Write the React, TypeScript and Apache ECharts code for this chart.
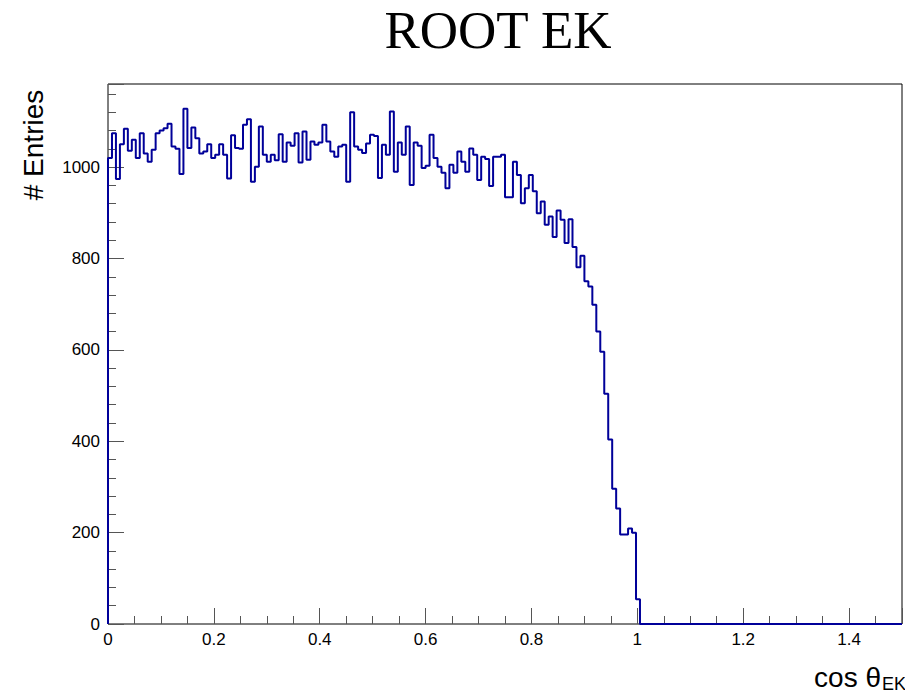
import React, { useEffect, useRef } from "react";
import * as echarts from "echarts";

// Histogram range and binning (200 bins over [0, 1.5])
const X_MIN = 0;
const X_MAX = 1.5;
const BIN_WIDTH = 0.0075;
const Y_MAX = 1182;

// Entries per bin, starting at cos θ = 0; every bin after the last one listed is empty.
const binCounts: number[] = [
  1020, 1074, 974, 1050, 1084, 1036, 1060, 1020, 1074, 1030,
  1012, 1038, 1074, 1080, 1085, 1095, 1045, 1040, 985, 1128,
  1042, 1087, 1063, 1030, 1034, 1050, 1020, 1027, 1050, 1027,
  975, 1070, 1042, 1040, 1093, 1105, 968, 1001, 1089, 1027,
  1012, 1027, 1015, 1072, 1012, 1054, 1047, 1074, 1010, 1078,
  1016, 1056, 1049, 1054, 1093, 1056, 1034, 1023, 1045, 1049,
  968, 1120, 1045, 1038, 1031, 1052, 1071, 1068, 976, 1049,
  1027, 1122, 990, 1054, 1027, 1089, 961, 1054, 1047, 998,
  1003, 1071, 1020, 1001, 988, 954, 1005, 988, 1034, 1012,
  990, 1041, 1027, 972, 1023, 1018, 959, 1023, 1023, 1027,
  934, 934, 1012, 983, 921, 954, 983, 947, 899, 925,
  874, 892, 847, 905, 885, 834, 886, 825, 781, 806,
  750, 739, 699, 640, 596, 504, 404, 296, 253, 196,
  196, 209, 200, 54,
];

// Axis tick steps
const X_MAJOR = 0.2;
const X_MINOR = 0.05;
const Y_MAJOR = 200;
const Y_MINOR = 40;

const TITLE = "ROOT EK";
const Y_TITLE = "# Entries";
const X_TITLE_MAIN = "cos θ";
const X_TITLE_SUB = "EK";

const LABEL_FONT = "'Liberation Sans', Arial, Helvetica, sans-serif";

export default function App() {
  const ref = useRef<HTMLDivElement | null>(null);

  useEffect(() => {
    if (!ref.current) return;
    const chart = echarts.init(ref.current, undefined, { renderer: "svg" });

    // Step outline: rise from zero at the lower edge, one point per bin edge,
    // drop back to zero after the last filled bin and run to the range end.
    const outline: [number, number][] = [[X_MIN, 0]];
    binCounts.forEach((c, i) => outline.push([X_MIN + i * BIN_WIDTH, c]));
    outline.push([X_MIN + binCounts.length * BIN_WIDTH, 0]);
    outline.push([X_MAX, 0]);

    const tickColor = "#555";

    chart.setOption({
      animation: false,
      backgroundColor: "#ffffff",
      grid: {
        left: 108,
        top: 84,
        width: 794,
        height: 540,
        show: true,
        borderColor: "#000",
        borderWidth: 1,
        backgroundColor: "transparent",
        containLabel: false,
      },
      xAxis: [
        {
          type: "value",
          min: X_MIN,
          max: X_MAX,
          interval: X_MAJOR,
          position: "bottom",
          axisLine: { show: false, onZero: false },
          axisTick: { show: true, inside: true, length: 16, lineStyle: { color: tickColor, width: 1 } },
          axisLabel: {
            show: true,
            margin: 7,
            fontSize: 17,
            color: "#000",
            fontFamily: LABEL_FONT,
            formatter: (v: number) => (v > 1.45 ? "" : String(+v.toFixed(1))),
          },
          splitLine: { show: false },
        },
        {
          type: "value",
          min: X_MIN,
          max: X_MAX,
          interval: X_MINOR,
          position: "bottom",
          axisLine: { show: false, onZero: false },
          axisTick: { show: true, inside: true, length: 8, lineStyle: { color: tickColor, width: 1 } },
          axisLabel: { show: false },
          splitLine: { show: false },
        },
      ],
      yAxis: [
        {
          type: "value",
          min: 0,
          max: Y_MAX,
          interval: Y_MAJOR,
          position: "left",
          axisLine: { show: false, onZero: false },
          axisTick: { show: true, inside: true, length: 16, lineStyle: { color: tickColor, width: 1 } },
          axisLabel: {
            show: true,
            margin: 8,
            fontSize: 17,
            color: "#000",
            fontFamily: LABEL_FONT,
            formatter: (v: number) => (v > 1100 ? "" : String(v)),
          },
          splitLine: { show: false },
        },
        {
          type: "value",
          min: 0,
          max: Y_MAX,
          interval: Y_MINOR,
          position: "left",
          axisLine: { show: false, onZero: false },
          axisTick: { show: true, inside: true, length: 8, lineStyle: { color: tickColor, width: 1 } },
          axisLabel: { show: false },
          splitLine: { show: false },
        },
      ],
      series: [
        {
          type: "line",
          xAxisIndex: 0,
          yAxisIndex: 0,
          step: "end",
          data: outline,
          showSymbol: false,
          symbol: "none",
          lineStyle: { color: "#000099", width: 2 },
          clip: true,
          z: 5,
        },
      ],
      graphic: [
        {
          type: "text",
          x: 498,
          y: 30,
          style: {
            text: TITLE,
            fontFamily: "'Liberation Serif', 'Times New Roman', serif",
            fontSize: 53,
            fill: "#000",
            align: "center",
            verticalAlign: "middle",
          },
        },
        {
          type: "text",
          x: 33,
          y: 145,
          rotation: Math.PI / 2,
          style: {
            text: Y_TITLE,
            fontFamily: LABEL_FONT,
            fontSize: 28,
            fill: "#000",
            align: "center",
            verticalAlign: "middle",
          },
        },
        {
          type: "text",
          x: 881,
          y: 677,
          style: {
            text: X_TITLE_MAIN,
            fontFamily: LABEL_FONT,
            fontSize: 28,
            fill: "#000",
            align: "right",
            verticalAlign: "middle",
          },
        },
        {
          type: "text",
          x: 882,
          y: 684,
          style: {
            text: X_TITLE_SUB,
            fontFamily: LABEL_FONT,
            fontSize: 18,
            fill: "#000",
            align: "left",
            verticalAlign: "middle",
          },
        },
      ],
    });

    return () => chart.dispose();
  }, []);

  return (
    <div
      ref={ref}
      style={{ position: "absolute", left: 0, top: 0, width: 905, height: 693 }}
    />
  );
}
